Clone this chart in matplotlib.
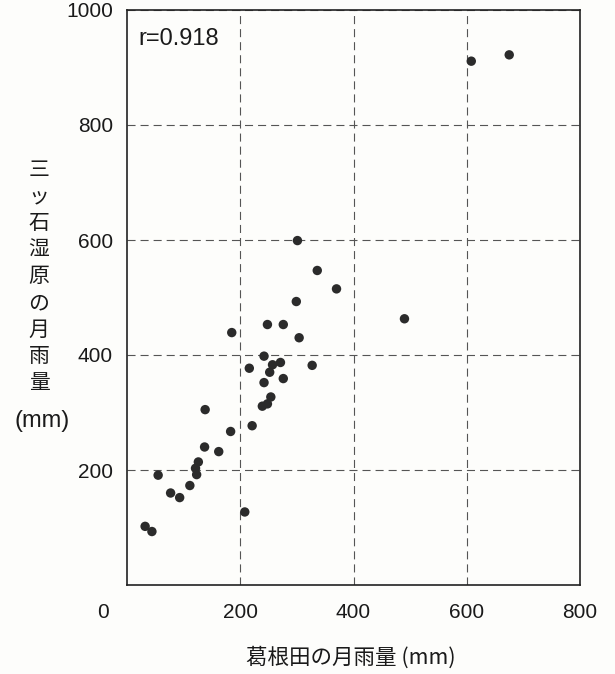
import matplotlib
matplotlib.use("Agg")
import matplotlib.pyplot as plt

# monthly rainfall (mm): Kakkonda (x) vs Mitsuishi marsh (y)
kakkonda = [608, 675, 301, 336, 370, 299, 490, 185, 248, 276, 304, 242, 257, 271,
            252, 216, 327, 276, 242, 254, 248, 239, 138, 221, 183, 137, 162, 126,
            121, 123, 55, 111, 77, 93, 208, 32, 44]
mitsuishi = [911, 922, 599, 547, 515, 493, 463, 439, 453, 453, 430, 398, 383, 387,
             370, 377, 382, 359, 352, 327, 315, 311, 305, 277, 267, 240, 232, 214,
             203, 192, 191, 173, 160, 152, 127, 102, 93]

r_text = "r=0.918"
x_ticks = [200, 400, 600, 800]
y_ticks = [200, 400, 600, 800, 1000]
ylabel_chars = list("三ッ石湿原の月雨量")
xlabel = "葛根田の月雨量 (mm)"

JP = ["Noto Sans CJK JP", "DejaVu Sans"]
NUM = ["Liberation Sans", "DejaVu Sans"]
plt.rcParams["lines.scale_dashes"] = False

W, H = 615, 674
fig = plt.figure(figsize=(W / 100, H / 100), dpi=100, facecolor="#fdfdfb")
ax = fig.add_axes([127 / W, 1 - 585 / H, (580 - 127) / W, (585 - 10) / H])
ax.set_facecolor("#fdfdfb")

ax.set_xlim(0, 800)
ax.set_ylim(0, 1000)
ax.set_xticks(x_ticks)
ax.set_yticks(y_ticks)
ax.tick_params(length=0, labelsize=15, colors="#1a1a1a")
ax.tick_params(axis="x", pad=13)
ax.tick_params(axis="y", pad=10)
for lab in ax.get_xticklabels() + ax.get_yticklabels():
    lab.set_family(NUM)
ax.grid(True, color="#555555", lw=0.8, linestyle=(0, (5.8, 3.6)))
for s in ax.spines.values():
    s.set_linewidth(1.2)
    s.set_color("#222222")
ax.set_axisbelow(True)

ax.scatter(kakkonda, mitsuishi, s=46, color="#2b2b2b", edgecolors="none", zorder=3)

# corner "0" shared by both axes
ax.annotate("0", xy=(0, 0), xytext=(-24.5, -27), textcoords="offset pixels",
            ha="center", va="center", fontsize=15, family=NUM, color="#1a1a1a",
            annotation_clip=False)

fig.text(138 / W, 1 - 39 / H, r_text, fontsize=17, family=NUM, va="center",
         ha="left", color="#1a1a1a")

# vertical y label, one character per line
y0, pitch = 170, 26.6
for i, ch in enumerate(ylabel_chars):
    fig.text(39 / W, 1 - (y0 + i * pitch) / H, ch, ha="center", va="center",
             fontsize=15, family=JP, color="#1a1a1a")
fig.text(42 / W, 1 - 421 / H, "(mm)", ha="center", va="center", fontsize=17,
         family=NUM, color="#1a1a1a")

fig.text(351 / W, 1 - 658 / H, xlabel, ha="center", va="center", fontsize=15.5,
         family=JP, color="#1a1a1a")

fig.savefig("out.png", dpi=100, facecolor=fig.get_facecolor())
